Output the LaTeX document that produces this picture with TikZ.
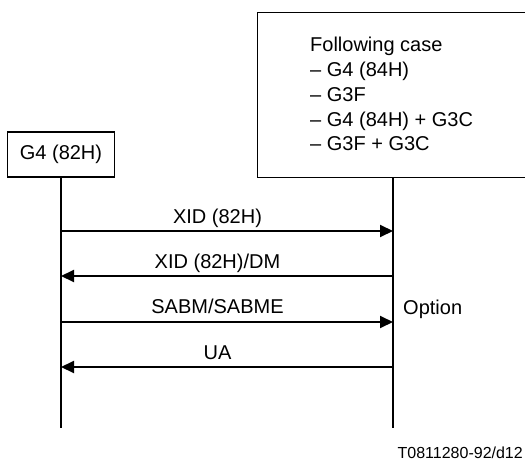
\documentclass[tikz,border=0pt]{standalone}
\usepackage{fontspec}
\setmainfont{Liberation Sans}
\usetikzlibrary{arrows.meta}
\begin{document}
\begin{tikzpicture}[x=1pt,y=-1pt,
  every node/.style={font=\fontsize{20}{24}\selectfont, inner sep=0pt},
  box/.style={draw, line width=1.1pt},
  life/.style={line width=2pt},
  msg/.style={line width=2pt, -{Triangle[length=13pt,width=12pt]}},
  lbl/.style={anchor=base},
  txt/.style={anchor=base west},
]
\useasboundingbox (0,0) rectangle (525,463);
% entities
\node[box, minimum width=107pt, minimum height=45pt] (A) at (61,154.5) {G4 (82H)};
\node[box, minimum width=290pt, minimum height=165pt, anchor=north west] (B) at (257,12) {};
\node[txt] (c1) at (310,51) {Following case};
\node[txt] (c2) at (310,76) {– G4 (84H)};
\node[txt] (c3) at (310,101) {– G3F};
\node[txt] (c4) at (310,126) {– G4 (84H) + G3C};
\node[txt] (c5) at (310,150) {– G3F + G3C};
% lifelines
\coordinate (Bbot) at (393,177);
\coordinate (Aend) at (61,428);
\coordinate (Bend) at (393,428);
\draw[life] (A.south) -- (Aend);
\draw[life] (Bbot) -- (Bend);
% message points
\coordinate (a1) at (61,231);  \coordinate (b1) at (393,231);
\coordinate (a2) at (61,276);  \coordinate (b2) at (393,276);
\coordinate (a3) at (61,322);  \coordinate (b3) at (393,322);
\coordinate (a4) at (61,367);  \coordinate (b4) at (393,367);
\draw[msg] (a1) -- (b1);
\draw[msg] (b2) -- (a2);
\draw[msg] (a3) -- (b3);
\draw[msg] (b4) -- (a4);
% labels
\node[lbl] (l1) at (217.5,223) {XID (82H)};
\node[lbl] (l2) at (217.5,268) {XID (82H)/DM};
\node[lbl] (l3) at (217.5,313) {SABM/SABME};
\node[lbl] (l4) at (217.5,359) {UA};
\node[txt] (opt) at (403,314) {Option};
\node[anchor=base east, font=\fontsize{16}{16}\selectfont] (fig) at (523,458) {T0811280-92/d12};
\end{tikzpicture}
\end{document}
